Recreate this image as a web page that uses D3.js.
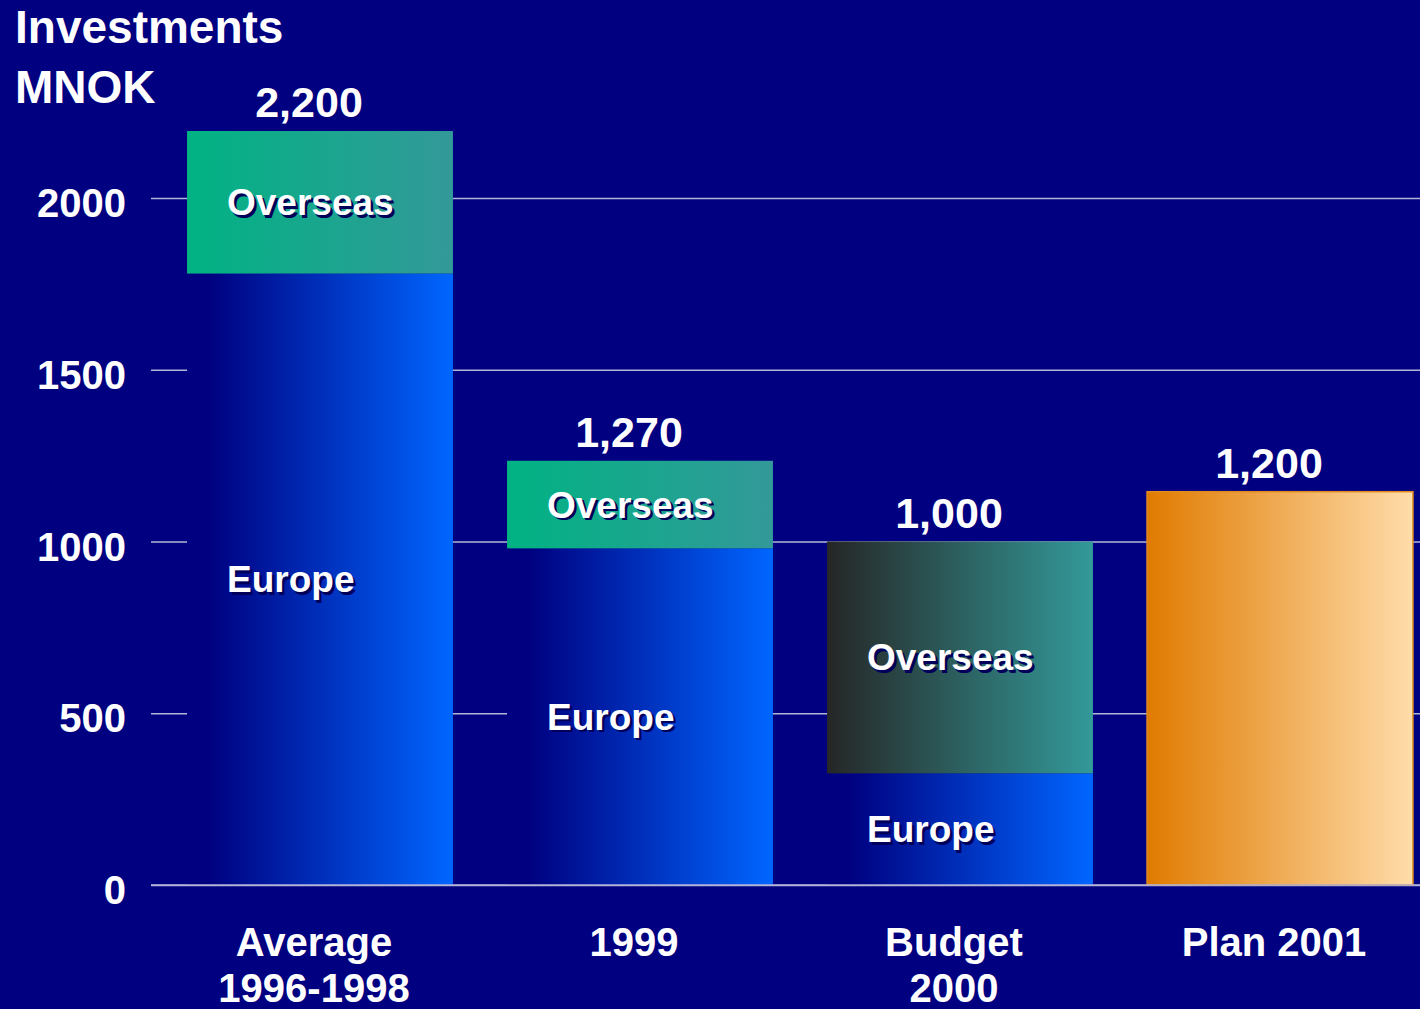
<!DOCTYPE html>
<html>
<head>
<meta charset="utf-8">
<script src="https://cdn.jsdelivr.net/npm/d3@7"></script>
<style>
  html, body { margin: 0; padding: 0; background: #000080; }
  svg { display: block; font-family: "Liberation Sans", Arial, sans-serif; font-weight: bold; }
</style>
</head>
<body>
<svg id="chart"></svg>
<script>
const categories = ["avg", "1999", "b2000", "p2001"];
const categoryLabels = [["Average", "1996-1998"], ["1999"], ["Budget", "2000"], ["Plan 2001"]];
const europe = [1780, 980, 325, 0];
const overseas = [415, 255, 675, 0];
const plan = [0, 0, 0, 1145];
const totalLabels = ["2,200", "1,270", "1,000", "1,200"];
const yTicks = [0, 500, 1000, 1500, 2000];

const width = 1420;
const height = 1009;

const svg = d3.select("#chart")
  .attr("width", width)
  .attr("height", height);

svg.append("rect")
  .attr("width", width)
  .attr("height", height)
  .attr("fill", "#000080");

// gradients
const defs = svg.append("defs");
function gradient(id, stops) {
  const g = defs.append("linearGradient")
    .attr("id", id)
    .attr("x1", "0%").attr("x2", "100%")
    .attr("y1", "0%").attr("y2", "0%");
  stops.forEach(s => g.append("stop").attr("offset", s[0]).attr("stop-color", s[1]));
}
gradient("gEurope", [[0, "#000080"], [0.08, "#000080"], [1, "#0066ff"]]);
gradient("gOverseas", [[0, "#00b383"], [1, "#339999"]]);
gradient("gOverseasDark", [[0, "#262626"], [1, "#339999"]]);
gradient("gPlan", [[0, "#e07b00"], [1, "#ffdcaa"]]);

const x = d3.scaleBand()
  .domain(categories)
  .range([160, 1440])
  .paddingInner(0.169)
  .paddingOuter(0.0845);

const y = d3.scaleLinear()
  .domain([0, 2000])
  .range([885, 198]);

// gridlines + y labels
const yAxis = svg.append("g")
  .attr("transform", "translate(151,0)")
  .call(d3.axisRight(y).tickValues(yTicks).tickSize(width - 151).tickFormat(""));
yAxis.select(".domain").remove();
yAxis.selectAll(".tick line").attr("stroke", "#b4b4d8").attr("stroke-width", 1.5);

svg.append("g")
  .selectAll("text")
  .data(yTicks)
  .enter()
  .append("text")
  .attr("x", 126)
  .attr("y", d => y(d) + 19)
  .attr("text-anchor", "end")
  .attr("fill", "#fff")
  .attr("font-size", 40)
  .text(d => d);

// stacked segments
const rows = categories.map((c, i) => ({
  c, i,
  europe: europe[i],
  overseas: overseas[i],
  plan: plan[i]
}));

const segments = [];
rows.forEach(r => {
  if (r.europe > 0) segments.push({ c: r.c, i: r.i, y0: 0, y1: r.europe, fill: "url(#gEurope)", label: "Europe" });
  if (r.overseas > 0) segments.push({
    c: r.c, i: r.i, y0: r.europe, y1: r.europe + r.overseas,
    fill: r.i === 2 ? "url(#gOverseasDark)" : "url(#gOverseas)", label: "Overseas"
  });
  if (r.plan > 0) segments.push({ c: r.c, i: r.i, y0: 0, y1: r.plan, fill: "url(#gPlan)", stroke: "#e08a20", label: null });
});

svg.append("g")
  .selectAll("rect")
  .data(segments)
  .enter()
  .append("rect")
  .attr("x", d => x(d.c))
  .attr("y", d => y(d.y1))
  .attr("width", x.bandwidth())
  .attr("height", d => y(d.y0) - y(d.y1))
  .attr("fill", d => d.fill)
  .attr("stroke", d => d.stroke || "none")
  .attr("stroke-width", 1.5);

// baseline on top
svg.append("line")
  .attr("x1", 151).attr("x2", width)
  .attr("y1", y(0)).attr("y2", y(0))
  .attr("stroke", "#b4b4d8")
  .attr("stroke-width", 1.5);

// segment labels with shadow
const segLabels = segments.filter(d => d.label);
const segG = svg.append("g").attr("font-size", 37);
[["#00005a", 2.5], ["#fff", 0]].forEach(([fill, off]) => {
  segG.append("g")
    .selectAll("text")
    .data(segLabels)
    .enter()
    .append("text")
    .attr("x", d => x(d.c) + x.bandwidth() / 2 - 93 + off)
    .attr("y", d => (y(d.y0) + y(d.y1)) / 2 + 13 + off)
    .attr("fill", fill)
    .text(d => d.label);
});

// total labels
svg.append("g")
  .selectAll("text")
  .data(rows)
  .enter()
  .append("text")
  .attr("x", d => x(d.c) + x.bandwidth() / 2 - 11)
  .attr("y", d => y(d.europe + d.overseas + d.plan) - 14)
  .attr("text-anchor", "middle")
  .attr("fill", "#fff")
  .attr("font-size", 43)
  .text(d => totalLabels[d.i]);

// category labels
const catG = svg.append("g")
  .selectAll("text")
  .data(categories)
  .enter()
  .append("text")
  .attr("x", d => x(d) + x.bandwidth() / 2 - 6)
  .attr("y", 956)
  .attr("text-anchor", "middle")
  .attr("fill", "#fff")
  .attr("font-size", 40);
catG.selectAll("tspan")
  .data((d, i) => categoryLabels[i])
  .enter()
  .append("tspan")
  .attr("x", function () { return d3.select(this.parentNode).attr("x"); })
  .attr("dy", (d, j) => j === 0 ? 0 : 46)
  .text(d => d);

// title
svg.append("text")
  .attr("x", 15)
  .attr("y", 43)
  .attr("fill", "#fff")
  .attr("font-size", 46)
  .text("Investments");
svg.append("text")
  .attr("x", 15)
  .attr("y", 103)
  .attr("fill", "#fff")
  .attr("font-size", 46)
  .text("MNOK");
</script>
</body>
</html>
